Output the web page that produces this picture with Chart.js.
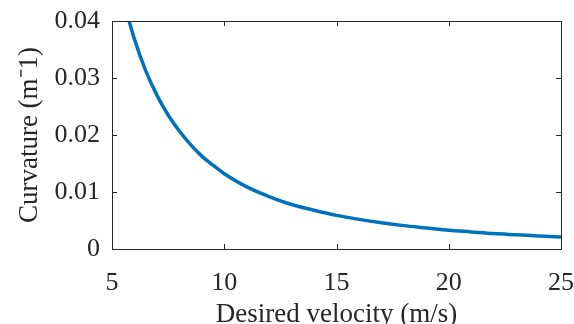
<!DOCTYPE html>
<html>
<head>
<meta charset="utf-8">
<script src="https://cdn.jsdelivr.net/npm/chart.js@4/dist/chart.umd.min.js"></script>
<style>
  html, body { margin: 0; padding: 0; background: #fff; }
  canvas { display: block; }
</style>
</head>
<body>
<canvas id="c" width="574" height="324"></canvas>
<script>
// Desired velocity (m/s) and the matching path curvature (1/m)
const velocity = [5.5, 6, 6.5, 7, 7.5, 8, 8.5, 9, 9.5, 10, 11, 12, 13, 14, 15, 16, 17, 18, 19, 20, 21, 22, 23, 24, 25];
const curvature = [0.0437, 0.0368, 0.0313, 0.0270, 0.0235, 0.0207, 0.0183, 0.0163, 0.0147, 0.0132,
                   0.0109, 0.0092, 0.0078, 0.0068, 0.0059, 0.0052, 0.0046, 0.0041, 0.0037, 0.0033,
                   0.0030, 0.0027, 0.0025, 0.0023, 0.0021];
const xTicks = [5, 10, 15, 20, 25];
const yTicks = [0, 0.01, 0.02, 0.03, 0.04];

const FONT = "'Liberation Serif', 'Times New Roman', serif";
const AXIS = '#262626';

// Box frame with inward ticks on all four sides
const boxAxes = {
  id: 'boxAxes',
  afterDatasetsDraw(chart) {
    const { ctx, chartArea: a, scales: { x, y } } = chart;
    const len = 5;
    ctx.save();
    ctx.strokeStyle = AXIS;
    ctx.lineWidth = 1;
    ctx.beginPath();
    ctx.rect(Math.round(a.left) + 0.5, Math.round(a.top) + 0.5,
             Math.round(a.right - a.left), Math.round(a.bottom - a.top));
    xTicks.forEach(v => {
      const px = Math.round(x.getPixelForValue(v)) + 0.5;
      ctx.moveTo(px, a.bottom); ctx.lineTo(px, a.bottom - len);
      ctx.moveTo(px, a.top); ctx.lineTo(px, a.top + len);
    });
    yTicks.forEach(v => {
      const py = Math.round(y.getPixelForValue(v)) + 0.5;
      ctx.moveTo(a.left, py); ctx.lineTo(a.left + len, py);
      ctx.moveTo(a.right, py); ctx.lineTo(a.right - len, py);
    });
    ctx.stroke();
    ctx.restore();
  }
};

// Keep the plot box fixed: no extra room reserved for overhanging tick labels
const noOverhang = s => { s.paddingLeft = 0; s.paddingRight = 0; s.paddingTop = 0; s.paddingBottom = 0; };

new Chart(document.getElementById('c'), {
  type: 'line',
  data: {
    datasets: [{
      data: velocity.map((v, i) => ({ x: v, y: curvature[i] })),
      borderColor: '#0072BD',
      borderWidth: 3.5,
      pointRadius: 0,
      cubicInterpolationMode: 'monotone',
      fill: false
    }]
  },
  options: {
    responsive: false,
    animation: false,
    events: [],
    layout: { padding: { left: 0, right: 13, top: 21, bottom: 0 } },
    plugins: { legend: { display: false }, tooltip: { enabled: false } },
    scales: {
      x: {
        type: 'linear',
        min: 5, max: 25,
        afterBuildTicks: s => { s.ticks = xTicks.map(v => ({ value: v })); },
        afterFit: s => { s.height = 75; noOverhang(s); },
        grid: { display: false, drawTicks: false },
        border: { display: false },
        ticks: { color: AXIS, font: { family: FONT, size: 26 }, padding: 19, maxRotation: 0 },
        title: { display: true, text: 'Desired velocity (m/s)', color: AXIS,
                 font: { family: FONT, size: 27 }, padding: { top: 0, bottom: -7 } }
      },
      y: {
        type: 'linear',
        min: 0, max: 0.04,
        afterBuildTicks: s => { s.ticks = yTicks.map(v => ({ value: v })); },
        afterFit: s => { s.width = 112; noOverhang(s); },
        grid: { display: false, drawTicks: false },
        border: { display: false },
        ticks: { color: AXIS, font: { family: FONT, size: 26 }, padding: 12,
                 callback: v => (v === 0 ? '0' : v.toFixed(2)) },
        title: { display: true, text: 'Curvature (m\u207B1)', color: AXIS,
                 font: { family: FONT, size: 27 }, padding: { top: 14, bottom: 0 } }
      }
    }
  },
  plugins: [boxAxes]
});
</script>
</body>
</html>
